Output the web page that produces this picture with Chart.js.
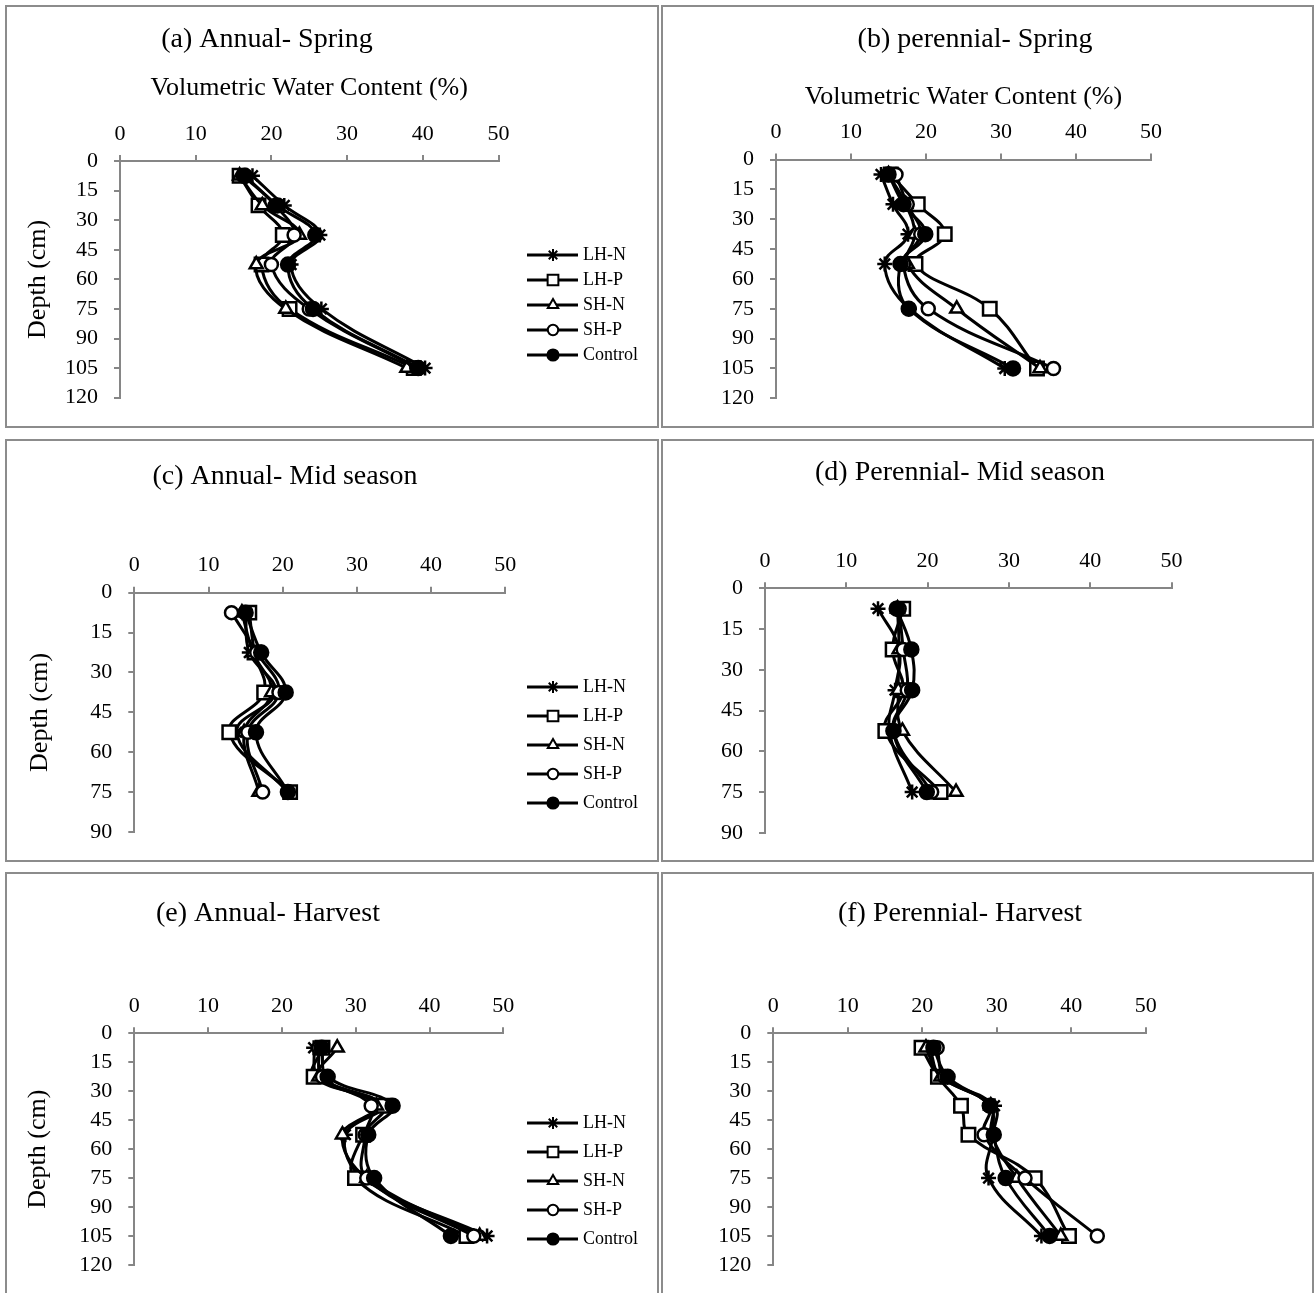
<!DOCTYPE html>
<html>
<head>
<meta charset="utf-8">
<script src="https://cdn.jsdelivr.net/npm/chart.js"></script>
<style>
  body { margin: 0; background: #fff; width: 1315px; height: 1293px; position: relative; overflow: hidden; }
  .panel { position: absolute; box-sizing: border-box; border: 2px solid #8c8c8c; pointer-events: none; }
  canvas { position: absolute; }
</style>
</head>
<body>
<script>
const seriesNames = ["LH-N", "LH-P", "SH-N", "SH-P", "Control"];
const depthsDeep = [7.5, 22.5, 37.5, 52.5, 75, 105];
const depthsMid = [7.5, 22.5, 37.5, 52.5, 75];
const waterTicks = [0, 10, 20, 30, 40, 50];
const depthTicksDeep = [0, 15, 30, 45, 60, 75, 90, 105, 120];
const depthTicksMid = [0, 15, 30, 45, 60, 75, 90];

// volumetric water content (%), one row per series (same order as seriesNames)
const annualSpring = [
  [17.5, 21.7, 26.4, 22.6, 26.6, 40.3],
  [15.8, 18.3, 21.5, 18.7, 22.4, 38.8],
  [15.8, 18.8, 23.7, 18.0, 21.9, 37.9],
  [16.3, 20.5, 23.0, 20.0, 25.0, 39.2],
  [16.5, 20.8, 25.8, 22.2, 25.5, 39.4],
];
const perennialSpring = [
  [14.0, 15.6, 17.6, 14.5, 17.8, 30.5],
  [15.3, 18.9, 22.5, 18.6, 28.5, 34.8],
  [15.0, 17.3, 18.5, 17.5, 24.1, 35.2],
  [16.0, 17.5, 19.3, 17.0, 20.3, 37.0],
  [15.0, 17.0, 19.9, 16.6, 17.7, 31.6],
];
const annualMid = [
  [15.0, 15.5, 19.0, 13.8, 20.7],
  [15.5, 16.2, 17.5, 12.8, 21.0],
  [14.5, 16.0, 18.5, 14.8, 16.8],
  [13.1, 16.5, 19.5, 15.3, 17.3],
  [15.0, 17.1, 20.4, 16.4, 20.7],
];
const perennialMid = [
  [13.9, 16.5, 16.0, 15.3, 18.1],
  [17.0, 15.7, 17.0, 14.8, 21.6],
  [16.3, 16.5, 16.4, 16.9, 23.5],
  [16.5, 17.0, 17.5, 15.8, 20.5],
  [16.2, 18.0, 18.1, 15.8, 19.9],
];
const annualHarvest = [
  [24.3, 25.0, 33.5, 28.6, 31.0, 47.8],
  [25.5, 24.3, 33.8, 31.0, 29.9, 45.0],
  [27.5, 25.0, 32.8, 28.2, 31.5, 46.8],
  [25.0, 25.5, 32.1, 31.3, 31.5, 46.0],
  [25.4, 26.2, 35.0, 31.7, 32.5, 42.9],
];
const perennialHarvest = [
  [21.0, 22.5, 29.7, 29.5, 28.9, 36.0],
  [19.9, 22.1, 25.2, 26.2, 35.1, 39.7],
  [20.5, 22.5, 29.2, 29.3, 32.7, 38.6],
  [22.0, 23.0, 29.0, 28.3, 33.8, 43.5],
  [21.5, 23.4, 29.1, 29.6, 31.2, 37.1],
];

const SERIF = "'Liberation Serif', 'Times New Roman', serif";
Chart.defaults.font.family = SERIF;
Chart.defaults.color = "#000";

const markers = [
  { style: "star", radius: 7.5, fill: "#000" },
  { style: "rect", radius: 9.5, fill: "#fff" },
  { style: "triangle", radius: 7.5, fill: "#fff" },
  { style: "circle", radius: 6.5, fill: "#fff" },
  { style: "circle", radius: 7, fill: "#000" },
];

// page layout: box = [x, y, w, h], area = [left, top, right, bottom] of plot
const panels = [
  { title: "(a) Annual- Spring", values: annualSpring, depths: depthsDeep, yTicks: depthTicksDeep,
    box: [5, 5, 654, 423], area: [120, 161, 498.5, 397.7], titleAt: [267, 40], xTitleY: 88, yTitleX: 38,
    legendTop: 255, legendGap: 25 },
  { title: "(b) perennial- Spring", values: perennialSpring, depths: depthsDeep, yTicks: depthTicksDeep,
    box: [661, 5, 653, 423], area: [776, 159.5, 1151, 398.3], titleAt: [975, 40], xTitleY: 97 },
  { title: "(c) Annual- Mid season", values: annualMid, depths: depthsMid, yTicks: depthTicksMid,
    box: [5, 439, 654, 423], area: [134.3, 592.7, 505.3, 832], titleAt: [285, 477], yTitleX: 40,
    legendTop: 687, legendGap: 29 },
  { title: "(d) Perennial- Mid season", values: perennialMid, depths: depthsMid, yTicks: depthTicksMid,
    box: [661, 439, 653, 423], area: [765, 588.3, 1171.5, 835], titleAt: [960, 473] },
  { title: "(e) Annual- Harvest", values: annualHarvest, depths: depthsDeep, yTicks: depthTicksDeep,
    box: [5, 872, 654, 430], area: [134.3, 1033.3, 503.3, 1265], titleAt: [268, 914], yTitleX: 38,
    legendTop: 1123, legendGap: 29 },
  { title: "(f) Perennial- Harvest", values: perennialHarvest, depths: depthsDeep, yTicks: depthTicksDeep,
    box: [661, 872, 653, 430], area: [773.3, 1033.3, 1145.7, 1265], titleAt: [960, 914] },
];

const panelDecor = {
  id: "panelDecor",
  afterDraw(chart, args, opts) {
    const ctx = chart.ctx;
    ctx.save();
    ctx.fillStyle = "#000";
    ctx.font = "28px " + SERIF;
    ctx.textAlign = "center";
    ctx.textBaseline = "middle";
    ctx.fillText(opts.title, opts.tx, opts.ty);

    if (opts.legendTop != null) {
      ctx.font = "18px " + SERIF;
      ctx.textAlign = "left";
      chart.data.datasets.forEach((ds, i) => {
        const y = opts.legendTop + i * opts.legendGap;
        ctx.strokeStyle = "#000";
        ctx.lineWidth = 3;
        ctx.beginPath();
        ctx.moveTo(opts.lx, y);
        ctx.lineTo(opts.lx + 51, y);
        ctx.stroke();
        ctx.fillStyle = ds.pointBackgroundColor;
        ctx.lineWidth = 2;
        if (Chart.helpers && Chart.helpers.drawPoint) {
          Chart.helpers.drawPoint(ctx, { pointStyle: ds.pointStyle, radius: ds.pointRadius * 0.8, borderWidth: 2, rotation: 0 }, opts.lx + 26, y);
        }
        ctx.fillStyle = "#000";
        ctx.fillText(ds.label, opts.lx + 56, y);
      });
    }
    ctx.restore();
  }
};

panels.forEach((p) => {
  const [bx, by, bw, bh] = p.box;
  const [al, at, ar, ab] = p.area;

  const canvas = document.createElement("canvas");
  canvas.width = bw;
  canvas.height = bh;
  canvas.style.left = bx + "px";
  canvas.style.top = by + "px";
  document.body.appendChild(canvas);

  const frame = document.createElement("div");
  frame.className = "panel";
  frame.style.left = bx + "px";
  frame.style.top = by + "px";
  frame.style.width = bw + "px";
  frame.style.height = bh + "px";
  document.body.appendChild(frame);

  const datasets = seriesNames.map((name, i) => ({
    label: name,
    data: p.depths.map((d, j) => ({ x: p.values[i][j], y: d })),
    showLine: true,
    borderColor: "#000",
    borderWidth: 3,
    tension: 0.4,
    pointStyle: markers[i].style,
    pointRadius: markers[i].radius,
    pointBackgroundColor: markers[i].fill,
    pointBorderColor: "#000",
    pointBorderWidth: 2.5,
    order: seriesNames.length - i,
  }));

  const xTitleLh = 26 * 1.2;
  const yTitleLh = 26 * 1.2;

  new Chart(canvas.getContext("2d"), {
    type: "scatter",
    data: { datasets },
    options: {
      responsive: false,
      animation: false,
      devicePixelRatio: 1,
      clip: false,
      layout: { padding: { left: 0, top: 0, right: bx + bw - ar, bottom: by + bh - ab } },
      plugins: {
        legend: { display: false },
        tooltip: { enabled: false },
        panelDecor: {
          title: p.title,
          tx: p.titleAt[0] - bx,
          ty: p.titleAt[1] - by,
          legendTop: p.legendTop != null ? p.legendTop - by : null,
          legendGap: p.legendGap,
          lx: 527 - bx,
        },
      },
      scales: {
        x: {
          type: "linear",
          position: "top",
          min: waterTicks[0],
          max: waterTicks[waterTicks.length - 1],
          afterBuildTicks: (s) => { s.ticks = waterTicks.map((v) => ({ value: v })); },
          afterFit: (s) => { s.height = at - by; },
          grid: { display: true, drawOnChartArea: false, drawTicks: true, tickLength: 6, color: "#868686", lineWidth: 2 },
          border: { display: true, color: "#868686", width: 2 },
          ticks: { font: { size: 22 }, padding: 8, autoSkip: false, maxRotation: 0 },
          title: {
            display: p.xTitleY != null,
            text: "Volumetric Water Content (%)",
            font: { size: 26 },
            padding: { top: p.xTitleY != null ? p.xTitleY - by - xTitleLh / 2 : 0, bottom: 0 },
          },
        },
        y: {
          type: "linear",
          reverse: true,
          min: p.yTicks[0],
          max: p.yTicks[p.yTicks.length - 1],
          afterBuildTicks: (s) => { s.ticks = p.yTicks.map((v) => ({ value: v })); },
          afterFit: (s) => { s.width = al - bx; },
          grid: { display: true, drawOnChartArea: false, drawTicks: true, tickLength: 6, color: "#868686", lineWidth: 2 },
          border: { display: true, color: "#868686", width: 2 },
          ticks: { font: { size: 22 }, padding: 16, autoSkip: false },
          title: {
            display: p.yTitleX != null,
            text: "Depth (cm)",
            font: { size: 26 },
            padding: { top: p.yTitleX != null ? p.yTitleX - bx - yTitleLh / 2 : 0, bottom: 0 },
          },
        },
      },
    },
    plugins: [panelDecor],
  });
});
</script>
</body>
</html>
